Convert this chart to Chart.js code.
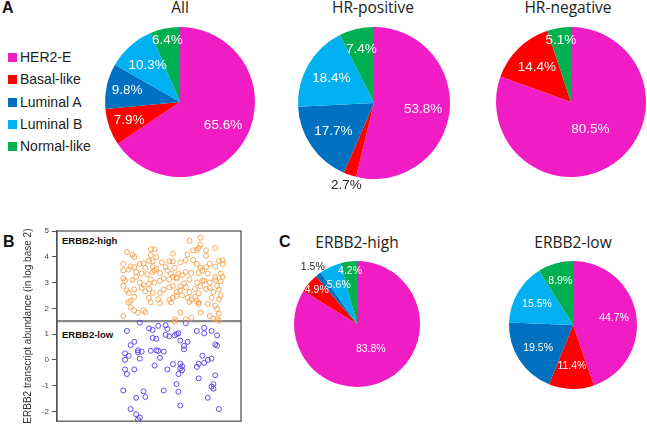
<!DOCTYPE html>
<html>
<head>
<meta charset="utf-8">
<script src="https://cdn.jsdelivr.net/npm/chart.js@4.4.1/dist/chart.umd.min.js"></script>
<style>
  body { margin: 0; width: 647px; height: 429px; position: relative; overflow: hidden; background: #fff;
         font-family: "Liberation Sans", Arial, sans-serif; }
  canvas { position: absolute; }
  .title { position: absolute; font-family: "Open Sans", sans-serif; font-size: 15.5px; color: #222;
           line-height: 18px; white-space: nowrap; transform: translateX(-50%); }
  .letter { position: absolute; font-weight: bold; font-size: 16px; line-height: 16px; color: #111; }
  .legend { position: absolute; left: 8px; top: 48px; font-size: 14px; color: #222; }
  .legend div { height: 22.3px; line-height: 18px; white-space: nowrap; }
  .legend span { display: inline-block; width: 9px; height: 9px; margin-right: 3px; vertical-align: 0px; }
  .tag { position: absolute; font-weight: bold; font-size: 9.5px; color: #111; white-space: nowrap; }
</style>
</head>
<body>
<div class="letter" style="left:2px;top:0px">A</div>
<div class="letter" style="left:3px;top:234px">B</div>
<div class="letter" style="left:279px;top:234px">C</div>

<div class="title" style="left:180px;top:-2px">All</div>
<div class="title" style="left:373px;top:-2px">HR-positive</div>
<div class="title" style="left:568px;top:-2px">HR-negative</div>
<div class="title" style="left:357px;top:233px">ERBB2-high</div>
<div class="title" style="left:573px;top:233px">ERBB2-low</div>

<div class="legend" id="legend"></div>
<div class="tag" style="left:62px;top:235px">ERBB2-high</div>
<div class="tag" style="left:62px;top:329px">ERBB2-low</div>

<script>
// subtypes, order clockwise from 12 o'clock
const subtypes = ['HER2-E', 'Basal-like', 'Luminal A', 'Luminal B', 'Normal-like'];
const subtypeColors = ['#f01dc5', '#ff0000', '#0070c0', '#00b0f0', '#00b050'];

// percentages per group
const allPct = [65.6, 7.9, 9.8, 10.3, 6.4];
const hrPosPct = [53.8, 2.7, 17.7, 18.4, 7.4];
const hrNegPct = [80.5, 14.4, 0, 0, 5.1];
const erbbHighPct = [83.8, 4.9, 1.5, 5.6, 4.2];
const erbbLowPct = [44.7, 11.4, 19.5, 15.5, 8.9];

// scatter: [jitter, log2 abundance]
const yTicks = [-2, -1, 0, 1, 2, 3, 4, 5];
const cutoff = 1.5;
const highPoints = [
  [0.38,4.19],[0.41,4.07],[0.42,3.99],[0.51,4.29],[0.53,4.29],[0.51,4.06],[0.54,3.99],[0.63,4.12],[0.72,4.62],
  [0.78,4.74],[0.78,4.47],[0.74,4.25],[0.76,4.27],[0.77,4.34],[0.81,4.25],[0.81,4.04],[0.86,4.34],[0.71,4.09],
  [0.36,3.72],[0.40,3.62],[0.42,3.60],[0.45,3.72],[0.47,3.74],[0.50,3.84],[0.52,3.82],[0.52,3.62],[0.54,3.53],
  [0.57,3.78],[0.59,3.60],[0.61,3.82],[0.63,3.82],[0.64,3.57],[0.67,3.78],[0.70,3.87],[0.74,3.87],[0.76,3.72],
  [0.78,3.57],[0.81,3.60],[0.83,3.74],[0.86,3.62],[0.88,3.84],[0.90,3.72],[0.90,3.87],
  [0.36,3.47],[0.39,3.50],[0.43,3.41],[0.46,3.35],[0.48,3.57],[0.49,3.32],[0.52,3.41],[0.53,3.47],[0.56,3.37],
  [0.58,3.16],[0.60,3.47],[0.62,3.35],[0.65,3.20],[0.66,3.35],[0.68,3.28],[0.70,3.41],[0.73,3.37],[0.77,3.37],
  [0.79,3.47],[0.79,3.07],[0.82,3.35],[0.86,3.20],[0.89,3.35],[0.90,3.22],
  [0.36,3.16],[0.37,3.07],[0.41,3.10],[0.43,3.22],[0.45,3.00],[0.47,2.91],[0.50,2.95],[0.51,3.12],[0.53,3.00],
  [0.56,3.07],[0.61,3.12],[0.63,3.22],[0.65,3.16],[0.67,2.85],[0.69,2.97],[0.72,3.12],[0.76,3.00],[0.78,2.85],
  [0.80,3.07],[0.83,3.00],[0.86,3.10],[0.87,2.87],[0.89,3.04],
  [0.36,2.87],[0.38,2.70],[0.39,2.60],[0.42,2.73],[0.46,2.79],[0.48,2.66],[0.50,2.75],[0.52,2.60],[0.56,2.60],
  [0.58,2.73],[0.61,2.81],[0.63,2.87],[0.65,2.63],[0.67,2.70],[0.70,2.82],[0.72,2.63],[0.75,2.75],[0.77,2.58],
  [0.81,2.75],[0.83,2.79],[0.85,2.63],[0.88,2.73],
  [0.39,2.23],[0.40,2.29],[0.42,2.45],[0.50,2.41],[0.51,2.23],[0.55,2.35],[0.56,2.20],[0.61,2.33],[0.63,2.41],
  [0.65,2.48],[0.68,2.50],[0.71,2.41],[0.73,2.33],[0.75,2.45],[0.76,2.29],[0.77,2.23],[0.84,2.41],[0.88,2.35],
  [0.89,2.50],
  [0.40,2.04],[0.42,1.92],[0.47,1.92],[0.48,1.85],[0.62,2.23],[0.67,1.83],[0.72,2.25],[0.77,2.17],[0.78,1.83],
  [0.82,2.17],[0.86,2.10],[0.87,1.98],[0.88,1.79],
  [0.36,1.70],[0.44,1.83],[0.83,1.70],[0.87,1.58],[0.88,1.51],
  [0.64,1.57],[0.70,1.57],[0.85,1.60],[0.64,1.48],[0.73,1.63]
];
const lowPoints = [
  [0.45,1.44],[0.38,1.12],[0.50,1.22],[0.52,1.16],[0.55,1.32],[0.59,1.34],[0.60,1.20],[0.70,1.42],[0.76,1.12],
  [0.80,1.24],[0.80,1.03],[0.84,1.12],[0.87,0.95],[0.64,0.95],[0.65,1.00],[0.66,1.03],[0.61,0.91],[0.59,0.97],
  [0.52,0.85],[0.54,0.82],[0.42,0.70],[0.40,0.57],[0.67,0.75],[0.71,0.70],[0.69,0.54],[0.69,0.41],[0.86,0.60],
  [0.87,0.55],[0.44,0.37],[0.46,0.32],[0.44,0.29],[0.51,0.35],[0.54,0.37],[0.55,0.35],[0.58,0.32],[0.37,0.25],
  [0.39,0.16],[0.37,0.00],[0.45,0.05],[0.56,0.08],[0.63,-0.17],[0.67,-0.15],[0.68,-0.25],[0.67,-0.33],[0.68,-0.40],
  [0.53,-0.22],[0.60,-0.37],[0.79,0.16],[0.84,0.05],[0.82,0.00],[0.80,-0.12],[0.77,-0.15],[0.76,-0.27],
  [0.37,-0.37],[0.42,-0.37],[0.38,-0.55],[0.66,-0.55],[0.86,-0.60],[0.77,-0.72],[0.65,-0.94],[0.85,-0.94],
  [0.84,-1.04],[0.85,-1.12],[0.36,-1.19],[0.47,-1.22],[0.58,-1.19],[0.66,-1.24],[0.43,-1.47],[0.48,-1.44],
  [0.82,-1.47],[0.67,-1.77],[0.88,-1.91],[0.40,-1.91],[0.43,-2.11],[0.45,-2.24],[0.44,-2.31]
];

// legend
const legendEl = document.getElementById('legend');
subtypes.forEach(function(name, i) {
  const row = document.createElement('div');
  row.innerHTML = '<span style="background:' + subtypeColors[i] + '"></span>' + name;
  legendEl.appendChild(row);
});

// percentage labels drawn on the slices
const pctPlugin = {
  id: 'pctLabels',
  afterDatasetsDraw(chart, args, opts) {
    const ctx = chart.ctx;
    const meta = chart.getDatasetMeta(0);
    const values = chart.data.datasets[0].data;
    ctx.save();
    ctx.font = opts.size + 'px "Liberation Sans", Arial, sans-serif';
    ctx.textAlign = 'center';
    ctx.textBaseline = 'middle';
    meta.data.forEach(function(arc, i) {
      const v = values[i];
      if (!v) return;
      const next = values[(i + 1) % values.length];
      const mid = (arc.startAngle + arc.endAngle) / 2;
      let frac = 0.65;
      if (v > 75) frac = 0.45;
      else if (v < 3) frac = 1.14;
      else if (v < 7) frac = (next >= 3 && next < 7) ? 0.68 : 0.84;  // keep neighbours apart
      else if (v < 10) frac = 0.72;
      ctx.fillStyle = v < 3 ? '#222' : '#fff';
      const r = arc.outerRadius * frac;
      ctx.fillText(v.toFixed(1) + '%', arc.x + Math.cos(mid) * r, arc.y + Math.sin(mid) * r);
    });
    ctx.restore();
  }
};

function makePie(values, cx, cy, r, fontSize) {
  const pad = 30;
  const size = 2 * (r + pad);
  const cv = document.createElement('canvas');
  cv.width = size; cv.height = size;
  cv.style.width = size + 'px'; cv.style.height = size + 'px';
  cv.style.left = (cx - r - pad) + 'px';
  cv.style.top = (cy - r - pad) + 'px';
  document.body.appendChild(cv);
  new Chart(cv, {
    type: 'pie',
    data: {
      labels: subtypes,
      datasets: [{ data: values, backgroundColor: subtypeColors, borderWidth: 0 }]
    },
    options: {
      responsive: false,
      animation: false,
      layout: { padding: pad },
      plugins: { legend: { display: false }, tooltip: { enabled: false }, pctLabels: { size: fontSize } }
    },
    plugins: [pctPlugin]
  });
}

makePie(allPct, 180, 102, 75, 13.5);
makePie(hrPosPct, 374, 103, 76, 13.5);
makePie(hrNegPct, 571, 102, 75, 13.5);
makePie(erbbHighPct, 357, 324, 63, 10.5);
makePie(erbbLowPct, 573, 325, 64, 10.5);

// box + cutoff line for the scatter
const boxPlugin = {
  id: 'box',
  beforeDatasetsDraw(chart) {
    const ctx = chart.ctx, a = chart.chartArea;
    const y = chart.scales.y.getPixelForValue(cutoff);
    ctx.save();
    ctx.strokeStyle = '#8a8a8a';
    ctx.lineWidth = 2.2;
    ctx.beginPath(); ctx.moveTo(a.left, y); ctx.lineTo(a.right, y); ctx.stroke();
    ctx.restore();
  },
  afterDraw(chart) {
    const ctx = chart.ctx, a = chart.chartArea;
    ctx.save();
    ctx.strokeStyle = '#555';
    ctx.lineWidth = 1.3;
    ctx.strokeRect(a.left, a.top, a.right - a.left, a.bottom - a.top);
    ctx.restore();
  }
};

const sc = document.createElement('canvas');
sc.width = 246; sc.height = 209;
sc.style.width = '246px'; sc.style.height = '209px';
sc.style.left = '0px'; sc.style.top = '220px';
document.body.appendChild(sc);

new Chart(sc, {
  type: 'scatter',
  data: {
    datasets: [
      { data: highPoints.map(p => ({ x: p[0], y: p[1] })), borderColor: '#f5a04a',
        backgroundColor: 'rgba(0,0,0,0)', pointRadius: 2.5, pointBorderWidth: 0.9 },
      { data: lowPoints.map(p => ({ x: p[0], y: p[1] })), borderColor: '#4d3cf0',
        backgroundColor: 'rgba(0,0,0,0)', pointRadius: 2.5, pointBorderWidth: 0.9 }
    ]
  },
  options: {
    responsive: false,
    animation: false,
    layout: { padding: { top: 11, right: 5, bottom: 1, left: 0 } },
    scales: {
      x: { type: 'linear', min: 0, max: 1, display: false },
      y: {
        min: -2.38, max: 5,
        afterFit(s) { s.width = 57; },
        ticks: {
          stepSize: 1, includeBounds: false, autoSkip: false,
          callback: v => yTicks.includes(v) ? String(v) : '',
          font: { size: 8 }, color: '#444', padding: 3
        },
        grid: { drawOnChartArea: false, drawTicks: true, tickLength: 5, color: '#555' },
        border: { display: true, color: '#555', width: 1.2 },
        title: { display: true, text: 'ERBB2 transcript abundance (in log base 2)',
                 font: { size: 10 }, color: '#333', padding: { top: 22, bottom: 0 } }
      }
    },
    plugins: { legend: { display: false }, tooltip: { enabled: false } }
  },
  plugins: [boxPlugin]
});
</script>
</body>
</html>
